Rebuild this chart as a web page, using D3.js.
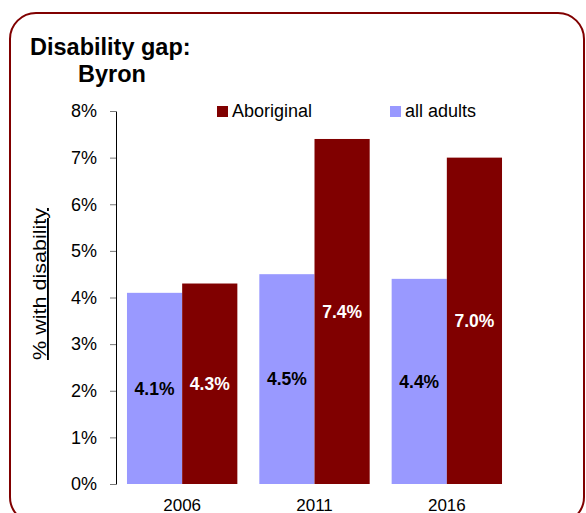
<!DOCTYPE html>
<html><head><meta charset="utf-8">
<script src="https://cdn.jsdelivr.net/npm/d3@7"></script>
<style>body{margin:0;background:#fff;font-family:"Liberation Sans",Arial,sans-serif}</style>
</head><body><svg id="c" width="586" height="513"></svg>
<script>
const years = ["2006", "2011", "2016"];
const seriesNames = ["all adults", "Aboriginal"];
const allAdults = [4.1, 4.5, 4.4];
const aboriginal = [4.3, 7.4, 7.0];
const yTicks = [0,1,2,3,4,5,6,7,8];
const colors = {"all adults":"#9999FF","Aboriginal":"#800000"};
const labelColors = {"all adults":"#000","Aboriginal":"#fff"};

const svg = d3.select("#c");
svg.append("rect").attr("x",10).attr("y",13).attr("width",574).attr("height",510)
  .attr("rx",26).attr("ry",26).attr("fill","none").attr("stroke","#800000").attr("stroke-width",2);

const y = d3.scaleLinear().domain([0,8]).range([484,111]);
const x0 = d3.scaleBand().domain(years).range([116,513]).paddingInner(0.166).paddingOuter(0.083);
const x1 = d3.scaleBand().domain(seriesNames).range([0,x0.bandwidth()]);

const data = years.map((yr,i)=>({year:yr, vals:[{s:"all adults",v:allAdults[i]},{s:"Aboriginal",v:aboriginal[i]}]}));

const g = svg.append("g").selectAll("g").data(data).join("g")
  .attr("transform",d=>`translate(${x0(d.year)},0)`);
g.selectAll("rect").data(d=>d.vals).join("rect")
  .attr("x",d=>x1(d.s)).attr("width",x1.bandwidth())
  .attr("y",d=>y(d.v)).attr("height",d=>y(0)-y(d.v))
  .attr("fill",d=>colors[d.s]);
g.selectAll("text").data(d=>d.vals).join("text")
  .attr("x",d=>x1(d.s)+x1.bandwidth()/2).attr("y",d=>(y(d.v)+y(0))/2)
  .attr("dy","0.35em").attr("text-anchor","middle")
  .attr("font-size",17.5).attr("font-weight","bold").attr("fill",d=>labelColors[d.s])
  .text(d=>d.v.toFixed(1)+"%");

// y axis
const ya = svg.append("g").attr("transform","translate(116,0)")
  .call(d3.axisLeft(y).tickValues(yTicks).tickFormat(d=>d+"%").tickSize(6).tickSizeOuter(0));
ya.select(".domain").attr("stroke","#000");
ya.selectAll(".tick line").attr("stroke","#777");
ya.selectAll(".tick text").attr("font-size",18).attr("font-family","Liberation Sans, Arial, sans-serif").attr("fill","#000").attr("x",-19);

// x axis labels
const xa = svg.append("g").attr("transform","translate(0,484)")
  .call(d3.axisBottom(x0).tickSize(0));
xa.select(".domain").remove();
xa.selectAll(".tick text").attr("font-size",17).attr("font-family","Liberation Sans, Arial, sans-serif").attr("fill","#000").attr("dy","0").attr("y",27);

// title
svg.append("text").attr("x",30).attr("y",55).attr("font-size",23.5).attr("font-weight","bold").text("Disability gap:");
svg.append("text").attr("x",78).attr("y",82).attr("font-size",23.5).attr("font-weight","bold").text("Byron");

// y title
svg.append("text").attr("transform","translate(46,284) rotate(-90)").attr("text-anchor","middle")
  .attr("font-size",19).attr("textLength",152).attr("lengthAdjust","spacingAndGlyphs")
  .attr("text-decoration","underline").text("% with disability");

// legend
const legend = [{s:"Aboriginal",x:217},{s:"all adults",x:390}];
const lg = svg.append("g").selectAll("g").data(legend).join("g").attr("transform",d=>`translate(${d.x},106)`);
lg.append("rect").attr("width",11).attr("height",11).attr("fill",d=>colors[d.s]);
lg.append("text").attr("x",15).attr("y",11).attr("font-size",18).text(d=>d.s);
</script></body></html>
